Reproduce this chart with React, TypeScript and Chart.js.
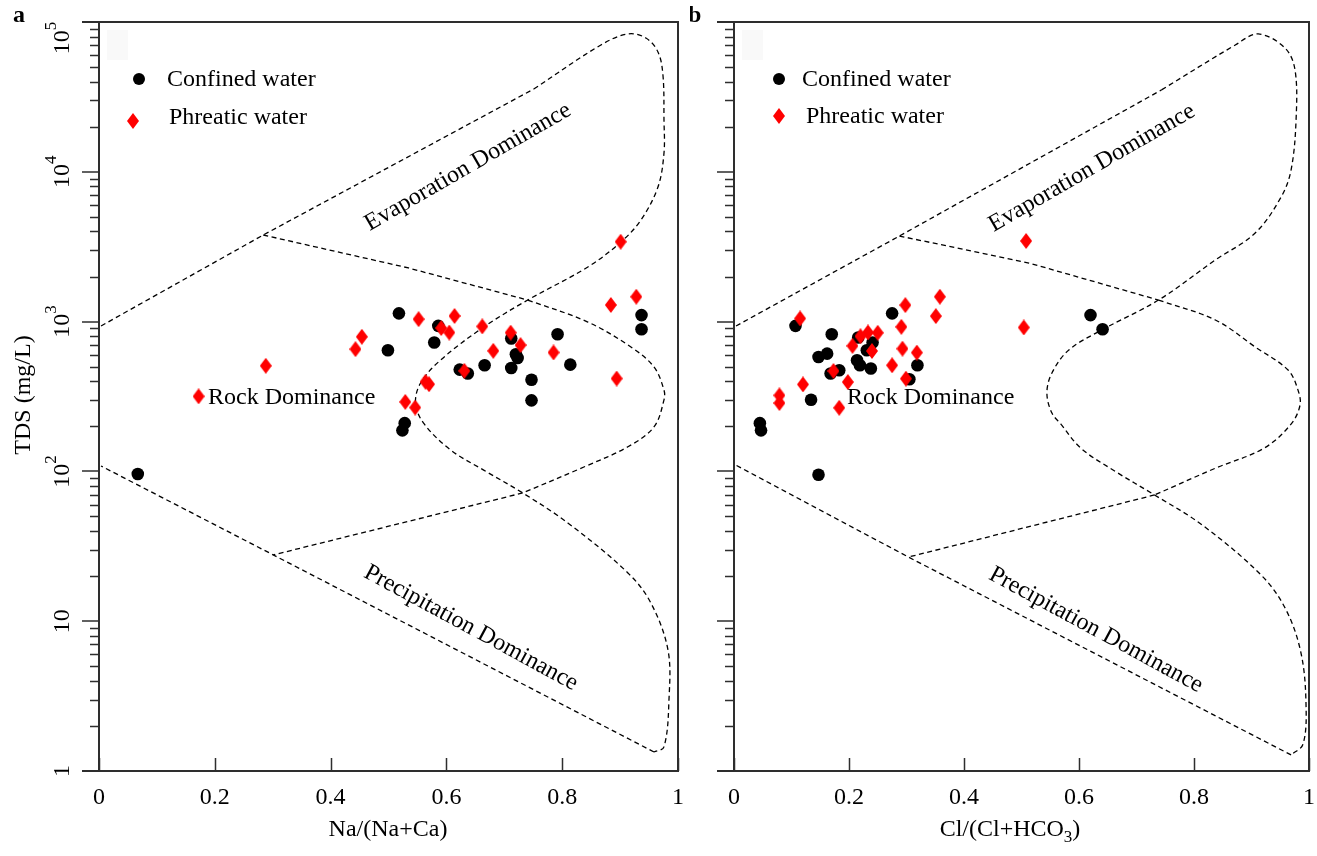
import React, { useEffect, useRef } from 'react';
import { Chart, registerables } from 'chart.js';

Chart.register(...registerables);

const FONT = '"Liberation Serif", "Times New Roman", serif';

// ---------- Panel a: Na/(Na+Ca) vs TDS ----------
const confinedNaRatio = [0.067, 0.499, 0.518, 0.524, 0.528, 0.579, 0.586, 0.623, 0.637, 0.666, 0.712, 0.712, 0.720, 0.723, 0.747, 0.747, 0.792, 0.814, 0.937, 0.937];
const confinedTdsA = [96, 644, 1135, 188, 210, 725, 937, 478, 450, 511, 771, 490, 606, 571, 409, 298, 824, 516, 1105, 890];
const phreaticNaRatio = [0.172, 0.288, 0.443, 0.454, 0.552, 0.591, 0.605, 0.614, 0.662, 0.711, 0.681, 0.728, 0.785, 0.631, 0.564, 0.570, 0.529, 0.546, 0.884, 0.928, 0.894, 0.901];
const phreaticTdsA = [317, 507, 655, 792, 1038, 906, 845, 1090, 929, 844, 638, 697, 622, 469, 396, 382, 291, 267, 1291, 1466, 417, 3414];

// ---------- Panel b: Cl/(Cl+HCO3) vs TDS ----------
const confinedClRatio = [0.107, 0.170, 0.275, 0.147, 0.162, 0.168, 0.183, 0.214, 0.219, 0.216, 0.241, 0.231, 0.238, 0.305, 0.319, 0.134, 0.045, 0.047, 0.147, 0.620, 0.641];
const confinedTdsB = [937, 824, 1135, 581, 611, 450, 473, 552, 511, 783, 725, 644, 486, 412, 511, 301, 210, 188, 95, 1105, 890];
const phreaticClRatio = [0.115, 0.079, 0.079, 0.120, 0.173, 0.183, 0.198, 0.206, 0.220, 0.233, 0.250, 0.240, 0.275, 0.291, 0.298, 0.293, 0.318, 0.299, 0.351, 0.358, 0.504, 0.508];
const phreaticTdsB = [1049, 322, 286, 381, 468, 266, 395, 689, 799, 846, 842, 637, 511, 923, 1289, 660, 621, 416, 1088, 1466, 914, 3452];

// ---------- Gibbs boundary curves, panel a ----------
const gibbsA_upperLine = [[0.0035, 935], [0.2837, 3785], [0.7509, 35700]];
const gibbsA_outerCurve = [[0.7509, 35700], [0.8668, 70200], [0.9135, 83200], [0.9446, 78200], [0.9654, 63100], [0.974, 44300], [0.9758, 22200], [0.9758, 13360], [0.9654, 7920], [0.936, 4770], [0.9014, 3400], [0.8443, 2315], [0.7405, 1393], [0.6644, 920], [0.59, 554], [0.5554, 389], [0.5467, 286], [0.5606, 210], [0.6073, 139], [0.6644, 102], [0.7318, 71.8], [0.8097, 45.3], [0.9135, 21.0], [0.9533, 13.2], [0.9827, 6.42], [0.9844, 2.98], [0.9758, 1.45], [0.9585, 1.34]];
const gibbsA_lowerLine = [[0.9585, 1.34], [0.301, 27.7], [0.0035, 108.7]];
const gibbsA_innerLineTop = [[0.2837, 3785], [0.5346, 2280], [0.7405, 1393]];
const gibbsA_innerCurve = [[0.7405, 1393], [0.8443, 993], [0.9187, 677], [0.9585, 498], [0.9758, 349], [0.9758, 300], [0.9585, 198], [0.9135, 146], [0.8374, 107], [0.7318, 71.8]];
const gibbsA_innerLineBottom = [[0.7318, 71.8], [0.301, 27.7]];

// ---------- Gibbs boundary curves, panel b ----------
const gibbsB_upperLine = [[0.0035, 935], [0.2877, 3726], [0.7435, 35200]];
const gibbsB_outerCurve = [[0.7435, 35200], [0.8718, 70200], [0.9116, 83200], [0.9584, 67000], [0.9757, 47800], [0.9775, 22200], [0.9688, 10280], [0.9515, 6790], [0.9064, 3900], [0.8371, 2578], [0.7383, 1393], [0.6395, 879], [0.5823, 646], [0.5529, 454], [0.5442, 333], [0.5529, 245], [0.5685, 207], [0.6031, 143], [0.662, 100.6], [0.7314, 69.6], [0.8146, 43.8], [0.9185, 20.0], [0.9601, 11.9], [0.9861, 6.13], [0.9948, 2.8], [0.9896, 1.51], [0.9688, 1.28]];
const gibbsB_lowerLine = [[0.9688, 1.28], [0.3033, 26.8], [0.0035, 110]];
const gibbsB_innerLineTop = [[0.2877, 3726], [0.513, 2461], [0.7383, 1393]];
const gibbsB_innerCurve = [[0.7383, 1393], [0.8371, 1025], [0.9064, 677], [0.9636, 475], [0.9809, 349], [0.9844, 277], [0.9688, 207], [0.922, 143], [0.8371, 105], [0.7314, 69.6]];
const gibbsB_innerLineBottom = [[0.7314, 69.6], [0.3033, 26.8]];

// ---------- Axis ticks & labels ----------
const xTickValues = [0, 0.2, 0.4, 0.6, 0.8, 1];
const xTickLabels = ['0', '0.2', '0.4', '0.6', '0.8', '1'];
const yMajorValues = [1, 10, 100, 1000, 10000, 100000];
const yMajorExponents = ['', '', '2', '3', '4', '5'];
const yMajorBases = ['1', '10', '10', '10', '10', '10'];
const minorMultipliers = [2, 3, 4, 5, 6, 7, 8, 9];

const seriesNames = ['Confined water', 'Phreatic water'];
const regionNames = ['Evaporation Dominance', 'Rock Dominance', 'Precipitation Dominance'];

function makeDiamond(): HTMLCanvasElement {
  const c = document.createElement('canvas');
  c.width = 12;
  c.height = 16;
  const g = c.getContext('2d')!;
  g.fillStyle = '#ff0000';
  g.beginPath();
  g.moveTo(6, 0);
  g.lineTo(12, 8);
  g.lineTo(6, 16);
  g.lineTo(0, 8);
  g.closePath();
  g.fill();
  return c;
}

function toPts(xs: number[], ys: number[]) {
  return xs.map((x, i) => ({ x, y: ys[i] }));
}

function curve(pairs: number[][], tension: number) {
  return {
    data: pairs.map(([x, y]) => ({ x, y })),
    showLine: true,
    borderColor: '#000',
    borderWidth: 1.3,
    borderDash: [5, 3.5],
    pointRadius: 0,
    tension,
    fill: false,
  };
}

type PanelSpec = {
  id: 'a' | 'b';
  ox: number;
  padLeft: number;
  padRight: number;
  xTitle: string;
  xTitleCenter: number;
  rock: [number, number];
  evap: [number, number];
  precip: [number, number];
  legCircle: [number, number];
  legCircleText: [number, number];
  legDiamond: [number, number];
  legDiamondText: [number, number];
  letterX: number;
  yLabels: boolean;
};

const panels: PanelSpec[] = [
  {
    id: 'a', ox: 0, padLeft: 99, padRight: 12,
    xTitle: 'Na/(Na+Ca)', xTitleCenter: 388,
    rock: [208, 398], evap: [468, 167], precip: [471, 628],
    legCircle: [139, 79], legCircleText: [167, 80], legDiamond: [133, 121], legDiamondText: [169, 118],
    letterX: 13, yLabels: true,
  },
  {
    id: 'b', ox: 690, padLeft: 44, padRight: 6,
    xTitle: 'Cl/(Cl+HCO', xTitleCenter: 1010,
    rock: [847, 398], evap: [1092, 168], precip: [1096, 630],
    legCircle: [779, 79], legCircleText: [802, 80], legDiamond: [779, 116], legDiamondText: [806, 117],
    letterX: 688, yLabels: false,
  },
];

function decorPlugin(p: PanelSpec, diamond: HTMLCanvasElement) {
  return {
    id: 'decor_' + p.id,
    beforeDatasetsDraw(chart: any) {
      const ctx = chart.ctx as CanvasRenderingContext2D;
      const a = chart.chartArea;
      ctx.save();
      ctx.fillStyle = '#f9f9f9';
      ctx.fillRect(a.left + 8, a.top + 8, 21, 30);
      ctx.fillStyle = '#000';
      ctx.font = `24px ${FONT}`;
      ctx.textBaseline = 'middle';
      ctx.textAlign = 'left';
      ctx.fillText(regionNames[1], p.rock[0] - p.ox, p.rock[1]);
      ctx.textAlign = 'center';
      ctx.save();
      ctx.translate(p.evap[0] - p.ox, p.evap[1]);
      ctx.rotate((-30 * Math.PI) / 180);
      ctx.fillText(regionNames[0], 0, 0);
      ctx.restore();
      ctx.save();
      ctx.translate(p.precip[0] - p.ox, p.precip[1]);
      ctx.rotate((28.5 * Math.PI) / 180);
      ctx.fillText(regionNames[2], 0, 0);
      ctx.restore();
      ctx.restore();
    },
    afterDraw(chart: any) {
      const ctx = chart.ctx as CanvasRenderingContext2D;
      const a = chart.chartArea;
      const xs = chart.scales.x;
      const ys = chart.scales.y;
      ctx.save();
      // frame
      ctx.strokeStyle = '#2e2e2e';
      ctx.lineWidth = 2;
      ctx.beginPath();
      ctx.moveTo(a.left - 17, a.top);
      ctx.lineTo(a.right, a.top);
      ctx.lineTo(a.right, a.bottom);
      ctx.lineTo(a.left - 17, a.bottom);
      ctx.moveTo(a.left, a.top);
      ctx.lineTo(a.left, a.bottom);
      ctx.stroke();
      // ticks
      ctx.lineWidth = 1.5;
      ctx.beginPath();
      yMajorValues.forEach((v) => {
        const py = Math.round(ys.getPixelForValue(v));
        ctx.moveTo(a.left - 17, py);
        ctx.lineTo(a.left, py);
      });
      for (let d = 1; d < 100000; d *= 10) {
        minorMultipliers.forEach((m) => {
          const py = Math.round(ys.getPixelForValue(d * m)) + 0.5;
          ctx.moveTo(a.left - 9, py);
          ctx.lineTo(a.left, py);
        });
      }
      xTickValues.forEach((v) => {
        const px = Math.round(xs.getPixelForValue(v)) + 0.5;
        ctx.moveTo(px, a.bottom);
        ctx.lineTo(px, a.bottom - 13);
      });
      ctx.stroke();

      ctx.fillStyle = '#000';
      ctx.font = `24px ${FONT}`;
      ctx.textBaseline = 'middle';
      ctx.textAlign = 'center';
      xTickValues.forEach((v, i) => {
        ctx.fillText(xTickLabels[i], xs.getPixelForValue(v), 798);
      });

      // x title
      if (p.id === 'a') {
        ctx.fillText(p.xTitle, p.xTitleCenter - p.ox, 830);
      } else {
        ctx.font = `24px ${FONT}`;
        const w1 = ctx.measureText(p.xTitle).width;
        ctx.font = `17px ${FONT}`;
        const w2 = ctx.measureText('3').width;
        ctx.font = `24px ${FONT}`;
        const w3 = ctx.measureText(')').width;
        const total = w1 + w2 + w3;
        const x0 = p.xTitleCenter - p.ox - total / 2;
        ctx.textAlign = 'left';
        ctx.fillText(p.xTitle, x0, 830);
        ctx.font = `17px ${FONT}`;
        ctx.fillText('3', x0 + w1, 838);
        ctx.font = `24px ${FONT}`;
        ctx.fillText(')', x0 + w1 + w2, 830);
      }

      // y labels
      if (p.yLabels) {
        yMajorValues.forEach((v, i) => {
          let py = ys.getPixelForValue(v);
          if (v === 100000) py = 38;
          const base = yMajorBases[i];
          const ex = yMajorExponents[i];
          ctx.save();
          ctx.translate(63, py);
          ctx.rotate(-Math.PI / 2);
          ctx.font = `24px ${FONT}`;
          const wb = ctx.measureText(base).width;
          ctx.font = `17px ${FONT}`;
          const we = ex ? ctx.measureText(ex).width : 0;
          const start = -(wb + we) / 2;
          ctx.textAlign = 'left';
          ctx.font = `24px ${FONT}`;
          ctx.fillText(base, start, 0);
          if (ex) {
            ctx.font = `17px ${FONT}`;
            ctx.fillText(ex, start + wb, -11);
          }
          ctx.restore();
        });
        ctx.save();
        ctx.translate(24, 395);
        ctx.rotate(-Math.PI / 2);
        ctx.font = `24px ${FONT}`;
        ctx.textAlign = 'center';
        ctx.fillText('TDS (mg/L)', 0, 0);
        ctx.restore();
      }

      // legend
      ctx.fillStyle = '#000';
      ctx.beginPath();
      ctx.arc(p.legCircle[0] - p.ox, p.legCircle[1], 6, 0, Math.PI * 2);
      ctx.fill();
      ctx.drawImage(diamond, p.legDiamond[0] - p.ox - 6, p.legDiamond[1] - 8);
      ctx.font = `24px ${FONT}`;
      ctx.textAlign = 'left';
      ctx.fillText(seriesNames[0], p.legCircleText[0] - p.ox, p.legCircleText[1]);
      ctx.fillText(seriesNames[1], p.legDiamondText[0] - p.ox, p.legDiamondText[1]);

      // panel letter
      ctx.font = `bold 24px ${FONT}`;
      ctx.fillText(p.id, p.letterX - p.ox, 16);
      ctx.restore();
    },
  };
}

function buildConfig(p: PanelSpec, diamond: HTMLCanvasElement): any {
  const isA = p.id === 'a';
  const confined = isA ? toPts(confinedNaRatio, confinedTdsA) : toPts(confinedClRatio, confinedTdsB);
  const phreatic = isA ? toPts(phreaticNaRatio, phreaticTdsA) : toPts(phreaticClRatio, phreaticTdsB);
  const g = isA
    ? [gibbsA_upperLine, gibbsA_outerCurve, gibbsA_lowerLine, gibbsA_innerLineTop, gibbsA_innerCurve, gibbsA_innerLineBottom]
    : [gibbsB_upperLine, gibbsB_outerCurve, gibbsB_lowerLine, gibbsB_innerLineTop, gibbsB_innerCurve, gibbsB_innerLineBottom];
  const tensions = [0, 0.35, 0, 0, 0.35, 0];
  return {
    type: 'scatter',
    data: {
      datasets: [
        {
          label: seriesNames[1],
          data: phreatic,
          pointStyle: diamond,
          pointRadius: 8,
          backgroundColor: '#ff0000',
          borderWidth: 0,
        },
        {
          label: seriesNames[0],
          data: confined,
          pointStyle: 'circle',
          pointRadius: 6.3,
          backgroundColor: '#000',
          borderColor: '#000',
          borderWidth: 0,
        },
        ...g.map((c, i) => curve(c, tensions[i])),
      ],
    },
    options: {
      animation: false,
      responsive: false,
      maintainAspectRatio: false,
      events: [],
      layout: { padding: { left: p.padLeft, right: p.padRight, top: 22, bottom: 85 } },
      plugins: { legend: { display: false }, tooltip: { enabled: false } },
      scales: {
        x: { type: 'linear', min: 0, max: 1, display: false },
        y: { type: 'logarithmic', min: 1, max: 100000, display: false },
      },
    },
    plugins: [decorPlugin(p, diamond)],
  };
}

export default function App() {
  const refA = useRef<HTMLCanvasElement>(null);
  const refB = useRef<HTMLCanvasElement>(null);
  useEffect(() => {
    document.body.style.margin = '0';
    const diamond = makeDiamond();
    const ca = new Chart(refA.current!, buildConfig(panels[0], diamond));
    const cb = new Chart(refB.current!, buildConfig(panels[1], diamond));
    return () => {
      ca.destroy();
      cb.destroy();
    };
  }, []);
  return (
    <div style={{ position: 'absolute', left: 0, top: 0, width: 1317, height: 856, background: '#fff' }}>
      <canvas ref={refA} width={690} height={856} style={{ position: 'absolute', left: 0, top: 0 }} />
      <canvas ref={refB} width={627} height={856} style={{ position: 'absolute', left: 690, top: 0 }} />
    </div>
  );
}
